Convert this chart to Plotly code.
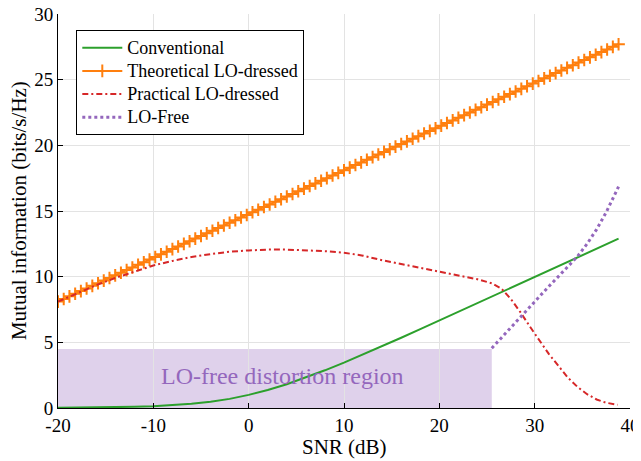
import plotly.graph_objects as go

# ---------------- data ----------------
snr_theory = [-20.0, -19.4, -18.8, -18.2, -17.6, -17.0, -16.4, -15.8, -15.2, -14.6,
              -14.0, -13.4, -12.8, -12.2, -11.6, -11.0, -10.4, -9.8, -9.2, -8.6,
              -8.0, -7.4, -6.8, -6.2, -5.6, -5.0, -4.4, -3.8, -3.2, -2.6,
              -2.0, -1.4, -0.8, -0.2, 0.4, 1.0, 1.6, 2.2, 2.8, 3.4,
              4.0, 4.6, 5.2, 5.8, 6.4, 7.0, 7.6, 8.2, 8.8, 9.4,
              10.0, 10.6, 11.2, 11.8, 12.4, 13.0, 13.6, 14.2, 14.8, 15.4,
              16.0, 16.6, 17.2, 17.8, 18.4, 19.0, 19.6, 20.2, 20.8, 21.4,
              22.0, 22.6, 23.2, 23.8, 24.4, 25.0, 25.6, 26.2, 26.8, 27.4,
              28.0, 28.6, 29.2, 29.8, 30.4, 31.0, 31.6, 32.2, 32.8, 33.4,
              34.0, 34.6, 35.2, 35.8, 36.4, 37.0, 37.6, 38.2, 38.8]
mi_theory = [8.1, 8.3, 8.5, 8.7, 8.9, 9.1, 9.3, 9.5, 9.7, 9.9,
             10.1, 10.3, 10.5, 10.7, 10.9, 11.1, 11.3, 11.5, 11.7, 11.9,
             12.1, 12.3, 12.5, 12.7, 12.9, 13.1, 13.3, 13.5, 13.7, 13.9,
             14.1, 14.3, 14.5, 14.7, 14.9, 15.1, 15.3, 15.5, 15.7, 15.9,
             16.1, 16.3, 16.5, 16.7, 16.9, 17.1, 17.3, 17.5, 17.7, 17.9,
             18.1, 18.3, 18.5, 18.7, 18.9, 19.1, 19.3, 19.5, 19.7, 19.9,
             20.1, 20.3, 20.5, 20.7, 20.9, 21.1, 21.3, 21.5, 21.7, 21.9,
             22.1, 22.3, 22.5, 22.7, 22.9, 23.1, 23.3, 23.5, 23.7, 23.9,
             24.1, 24.3, 24.5, 24.7, 24.9, 25.1, 25.3, 25.5, 25.7, 25.9,
             26.1, 26.3, 26.5, 26.7, 26.9, 27.1, 27.3, 27.5, 27.7]

snr_conv = [-20, -18, -16, -14, -12, -10, -8, -6, -4, -2, 0, 2, 4, 6, 8, 10,
            12, 14, 16, 18, 20, 22, 24, 26, 28, 30, 32, 34, 36, 38, 38.8]
mi_conv = [0.014, 0.023, 0.036, 0.057, 0.09, 0.138, 0.212, 0.321, 0.478, 0.695,
           1.0, 1.37, 1.81, 2.32, 2.87, 3.46, 4.07, 4.71, 5.35, 6.0, 6.66,
           7.32, 7.98, 8.64, 9.3, 9.97, 10.63, 11.29, 11.96, 12.62, 12.89]

snr_prac = [-20, -18, -16, -14, -12, -10, -8, -6, -4, -2, 0, 2, 4, 6, 8, 10,
            12, 14, 16, 18, 20, 22, 24, 25.5, 26.5, 27.5, 28.5, 29.5, 30.5,
            31.5, 32.5, 33.5, 34.5, 35.5, 36.5, 37.5, 38.7]
mi_prac = [8.1, 8.75, 9.35, 9.9, 10.4, 10.85, 11.2, 11.5, 11.72, 11.9, 12.0,
           12.06, 12.06, 12.02, 11.94, 11.82, 11.6, 11.25, 10.95, 10.65, 10.38,
           10.1, 9.8, 9.5, 9.1, 8.3, 7.3, 6.2, 5.1, 4.1, 3.2, 2.3, 1.6, 1.05,
           0.65, 0.4, 0.25]

snr_free = [25.5, 27, 28.5, 30, 31.5, 33, 34.5, 35.5, 36.5, 37.5, 38.8]
mi_free = [4.55, 5.75, 6.95, 8.12, 9.27, 10.4, 11.55, 12.5, 13.6, 14.9, 16.85]

region_x = [-20, 25.5]
region_y = [0, 4.5]
region_label = "LO-free distortion region"

x_ticks = [-20, -10, 0, 10, 20, 30, 40]
x_ticklabels = ["-20", "-10", "0", "10", "20", "30", "40"]
y_ticks = [0, 5, 10, 15, 20, 25, 30]
y_ticklabels = ["0", "5", "10", "15", "20", "25", "30"]

x_title = "SNR (dB)"
y_title = "Mutual information (bits/s/Hz)"

series_names = ["Conventional", "Theoretical LO-dressed", "Practical LO-dressed", "LO-Free"]

# ---------------- figure ----------------
FONT = "Liberation Serif, Times New Roman, serif"


def legend_name(s):
    return '<span style="font-size:18px">' + s + '</span>'


fig = go.Figure()

fig.add_trace(go.Scatter(x=snr_conv, y=mi_conv, mode="lines", name=legend_name(series_names[0]),
                         line=dict(color="#2ca02c", width=2)))
fig.add_trace(go.Scatter(x=snr_theory, y=mi_theory, mode="lines+markers",
                         name=legend_name(series_names[1]),
                         line=dict(color="#ff7f0e", width=2),
                         marker=dict(symbol="cross-thin", size=9, color="#ff7f0e",
                                     line=dict(color="#ff7f0e", width=2))))
fig.add_trace(go.Scatter(x=snr_prac, y=mi_prac, mode="lines",
                         name=legend_name(series_names[2]),
                         line=dict(color="#d62728", width=2, dash="6px,3px,2px,3px")))
fig.add_trace(go.Scatter(x=snr_free, y=mi_free, mode="lines", name=legend_name(series_names[3]),
                         line=dict(color="#9467bd", width=3, dash="3px,3px")))

fig.add_shape(type="rect", xref="x", yref="y",
              x0=region_x[0], x1=region_x[1], y0=region_y[0], y1=region_y[1],
              fillcolor="rgba(148,103,189,0.3)", line=dict(width=0), layer="below")
fig.add_annotation(x=3.6, y=2.4, xref="x", yref="y", text=region_label,
                   showarrow=False, font=dict(family=FONT, size=24, color="#9467bd"))

# axis titles as annotations (precise placement)
fig.add_annotation(x=0.5, y=-0.098, xref="paper", yref="paper", text=x_title,
                   showarrow=False, xanchor="center", yanchor="middle",
                   font=dict(family=FONT, size=21, color="black"))
fig.add_annotation(x=-0.068, y=0.5, xref="paper", yref="paper", text=y_title,
                   showarrow=False, xanchor="center", yanchor="middle", textangle=-90,
                   borderpad=0,
                   font=dict(family=FONT, size=21, color="black"))

axis_common = dict(showgrid=True, gridcolor="#e3e3e3", gridwidth=1,
                   showline=True, linecolor="black", linewidth=1, mirror=False,
                   ticks="inside", ticklen=5, tickcolor="black", zeroline=False,
                   automargin=False, ticklabeloverflow="allow",
                   tickfont=dict(family=FONT, size=19, color="black"))

fig.update_xaxes(range=[-20, 40], tickvals=x_ticks, ticktext=x_ticklabels, **axis_common)
fig.update_yaxes(range=[0, 30], tickvals=y_ticks, ticktext=y_ticklabels, **axis_common)

# page body has an 8px offset in the browser, so the figure is sized to fit
fig.update_layout(
    width=633, height=453,
    margin=dict(l=50, r=11, t=6, b=53, autoexpand=False),
    paper_bgcolor="white", plot_bgcolor="white",
    font=dict(family=FONT, size=15.5, color="black"),
    showlegend=True,
    legend=dict(x=0.032, y=0.959, xanchor="left", yanchor="top",
                bgcolor="white", bordercolor="black", borderwidth=1,
                font=dict(family=FONT, size=15.5, color="black"),
                tracegroupgap=0, itemwidth=40),
)

fig.write_html("out.html")
